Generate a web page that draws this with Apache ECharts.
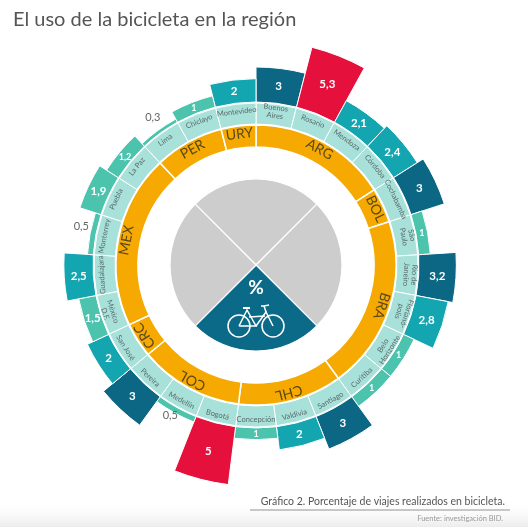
<!DOCTYPE html>
<html><head><meta charset="utf-8">
<script src="https://cdn.jsdelivr.net/npm/echarts@6/dist/echarts.min.js"></script>
<style>html,body{margin:0;padding:0;background:#fff}#c{width:528px;height:527px}</style>
</head><body><div id="c"></div>
<script>
// ---- data ----
const cities = ['Buenos Aires','Rosario','Mendoza','Córdoba','Cochabamba','São Paulo','Rio de Janeiro','Florianópolis','Belo Horizonte','Curitiba','Santiago','Valdivia','Concepción','Bogotá','Medellín','Pereira','San José','México D.F.','Guadalajara','Monterrey','Puebla','La Paz','Lima','Chiclayo','Montevideo'];
const cityLabels = ['Buenos\nAires','Rosario','Mendoza','Córdoba','Cochabamba','São\nPaulo','Rio de\nJaneiro','Florianó-\npolis','Belo\nHorizonte','Curitiba','Santiago','Valdivia','Concepción','Bogotá','Medellín','Pereira','San José','México\nD.F.','Guadalajara','Monterrey','Puebla','La Paz','Lima','Chiclayo','Montevideo'];
const bikeShare = [3, 5.3, 2.1, 2.4, 3, 1, 3.2, 2.8, 1, 1, 3, 2, 1, 5, 0.5, 3, 2, 1.5, 2.5, 0.5, 1.9, 1.2, 0.3, 1, 2];
const countries = ['ARG','BOL','BRA','CHL','COL','CRC','MEX','PER','URY'];
const citiesPerCountry = [4, 1, 5, 3, 3, 1, 5, 2, 1];
const centerSlices = [1, 1, 1, 1];
const titleText = 'El uso de la bicicleta en la región';
const captionText = 'Gráfico 2. Porcentaje de viajes realizados en bicicleta.';
const sourceText = 'Fuente: investigación BID.';

// ---- styles ----
const CX = 256, CY = 265;
const FONT = 'Lato, "Open Sans", sans-serif';
function barColor(v){ if(v>=5) return '#e5103b'; if(v>=3) return '#0c6784'; if(v>=2) return '#13a5b0'; return '#4bc3ad'; }
function fmt(v){ return String(v).replace('.', ','); }
const N = cities.length;
const cityData = cities.map((c,i)=>{
  const th = (i+0.5)*360/N;
  const flip = th>115 && th<260;
  return {value:1, name:c, label:{formatter:cityLabels[i], rotate: flip ? 180-th : -th}};
});
let acc = 0;
const countryData = countries.map((c,i)=>{
  const th = (acc + citiesPerCountry[i]/2)*360/N;
  acc += citiesPerCountry[i];
  return {value:citiesPerCountry[i], name:c, label:{rotate:-th}};
});
const barData = bikeShare.map(v=>{
  const small = v < 1;
  return {
    value: v,
    itemStyle:{color: barColor(v)},
    label: small ? {position:'end', distance:9, color:'#666', fontWeight:'normal', fontSize:11, rotate:0}
                 : {position:'middle', color:'#fff', fontWeight:'bold', fontSize: v<1.3 ? 9 : 11.5, rotate:0}
  };
});
const Z = 100;
const W = {fill:'none', stroke:'#fff', lineWidth:1.5};

const chart = echarts.init(document.getElementById('c'), null, {renderer:'canvas'});
chart.setOption({
  backgroundColor:'#fff',
  animation:false,
  title:{text:titleText, left:8, top:5, textStyle:{fontFamily:FONT, fontSize:20, fontWeight:'normal', color:'#555'}},
  polar:{center:[CX,CY], radius:[163,233]},
  angleAxis:{type:'category', data:cities, startAngle:90, clockwise:true, show:false, axisLine:{show:false}, splitLine:{show:false}},
  radiusAxis:{type:'value', min:0, max:6, show:false, splitLine:{show:false}},
  series:[
    {
      type:'bar', coordinateSystem:'polar', data:barData, barCategoryGap:'0%',
      itemStyle:{borderColor:'#fff', borderWidth:1},
      label:{show:true, rotate:0, formatter:p=>fmt(p.value), fontFamily:FONT}
    },
    {
      type:'pie', center:[CX,CY], radius:[141,162], startAngle:90, clockwise:true,
      data:cityData, silent:true,
      itemStyle:{color:'#a8e0da', borderColor:'#fff', borderWidth:1},
      label:{show:true, position:'inside', fontSize:7.5, lineHeight:8, color:'#5a6c6a', fontFamily:FONT},
      labelLine:{show:false}
    },
    {
      type:'pie', center:[CX,CY], radius:[118,140], startAngle:90, clockwise:true,
      data:countryData, silent:true,
      itemStyle:{color:'#f6a900', borderColor:'#fff', borderWidth:1.5},
      label:{show:true, position:'inside', fontSize:14, color:'#5a4818', fontFamily:FONT, formatter:'{b}'},
      labelLine:{show:false}
    },
    {
      type:'pie', center:[CX,CY], radius:[0,86], startAngle:135, clockwise:true,
      data:centerSlices.map((v,i)=>({value:v, itemStyle:{color: i===2 ? '#0b6a88' : '#cdcdcd'}})),
      silent:true, label:{show:false}, labelLine:{show:false},
      itemStyle:{borderColor:'#fff', borderWidth:1.2}
    }
  ],
  graphic:[
    {type:'text', z:Z, style:{text:'%', x:CX, y:CY+23, fill:'#fff', font:'bold 19px '+FONT, textAlign:'center', textVerticalAlign:'middle'}},
    {type:'circle', z:Z, shape:{cx:CX-17, cy:CY+61, r:11}, style:W},
    {type:'circle', z:Z, shape:{cx:CX+17, cy:CY+61, r:11}, style:W},
    {type:'polyline', z:Z, shape:{points:[[CX-17,CY+61],[CX-9,CY+45],[CX,CY+61],[CX-17,CY+61]]}, style:W},
    {type:'polyline', z:Z, shape:{points:[[CX,CY+61],[CX+10,CY+47],[CX+17,CY+61]]}, style:W},
    {type:'polyline', z:Z, shape:{points:[[CX-7,CY+52],[CX+9,CY+51]]}, style:W},
    {type:'polyline', z:Z, shape:{points:[[CX+10,CY+47],[CX+8,CY+41],[CX+5,CY+41]]}, style:W},
    {type:'polyline', z:Z, shape:{points:[[CX+8,CY+41],[CX+13,CY+40]]}, style:W},
    {type:'polyline', z:Z, shape:{points:[[CX-13,CY+43],[CX-6,CY+43]]}, style:{fill:'none', stroke:'#fff', lineWidth:2}},
    {type:'rect', z:-1, shape:{x:0, y:500, width:528, height:27}, style:{fill:new echarts.graphic.LinearGradient(0,0,0,1,[{offset:0,color:'rgba(255,255,255,0)'},{offset:1,color:'#ececec'}])}},
    {type:'text', z:Z, style:{text:captionText, x:505, y:502, fill:'#555', font:'10.5px '+FONT, textAlign:'right', textVerticalAlign:'middle'}},
    {type:'line', z:Z, shape:{x1:250, y1:510, x2:510, y2:510}, style:{stroke:'#777', lineWidth:0.8}},
    {type:'text', z:Z, style:{text:sourceText, x:503, y:519, fill:'#999', font:'7.5px '+FONT, textAlign:'right', textVerticalAlign:'middle'}}
  ]
});
</script></body></html>
